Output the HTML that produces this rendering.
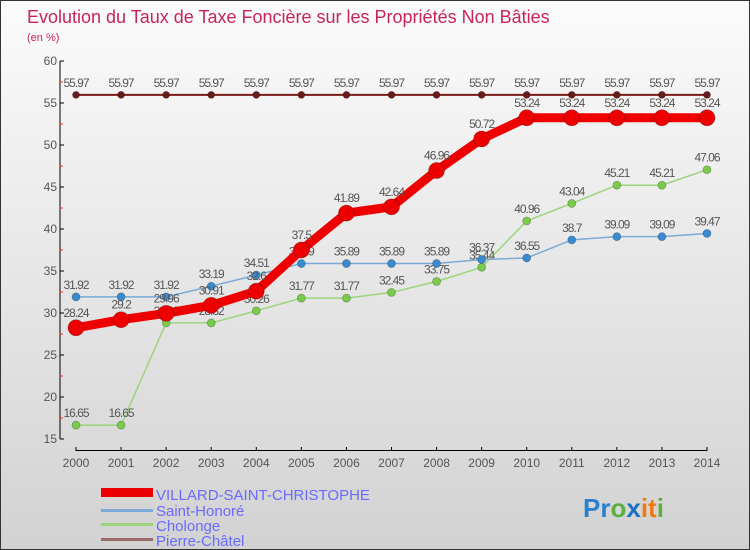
<!DOCTYPE html>
<html><head><meta charset="utf-8"><style>
body{margin:0}
#c{width:748px;height:548px;border:1px solid #333;background:linear-gradient(#fbfbfb,#d2d2d2);position:relative;font-family:"Liberation Sans",sans-serif;overflow:hidden}
</style></head><body>
<div id="c">
<svg id="s" width="748" height="548" style="position:absolute;left:0;top:0">
<text x="26" y="22" font-size="18" fill="#c8245c">Evolution du Taux de Taxe Foncière sur les Propriétés Non Bâties</text>
<text x="26" y="40" font-size="11" fill="#c8245c">(en %)</text>
<g id="axes"></g><g id="series"></g>
<g>
<rect x="100" y="487" width="52" height="9" fill="#e00"/>
<text x="155" y="499" font-size="15" fill="#6a6aff">VILLARD-SAINT-CHRISTOPHE</text>
<rect x="100" y="508" width="52" height="3" fill="#7aaad5"/>
<text x="155" y="515" font-size="15" fill="#6a6aff">Saint-Honoré</text>
<rect x="100" y="522" width="52" height="3" fill="#9ad57a"/>
<text x="155" y="530" font-size="15" fill="#6a6aff">Cholonge</text>
<rect x="100" y="537" width="52" height="3" fill="#9a6a6a"/>
<text x="155" y="545" font-size="15" fill="#6a6aff">Pierre-Châtel</text>
</g>
<text x="582" y="516" font-size="26" font-weight="bold"><tspan fill="#2a7fd0">Pr</tspan><tspan fill="#5ab040">o</tspan><tspan fill="#1a70c0">x</tspan><tspan fill="#f07a10">it</tspan><tspan fill="#5ab040">i</tspan></text>
</svg>
</div>
<script>
const years=["2000","2001","2002","2003","2004","2005","2006","2007","2008","2009","2010","2011","2012","2013","2014"];
const yTicks=[15,20,25,30,35,40,45,50,55,60];
const villard=[28.24,29.2,29.96,30.91,32.6,37.5,41.89,42.64,46.96,50.72,53.24,53.24,53.24,53.24,53.24];
const saintHonore=[31.92,31.92,31.92,33.19,34.51,35.89,35.89,35.89,35.89,36.37,36.55,38.7,39.09,39.09,39.47];
const cholonge=[16.65,16.65,28.82,28.82,30.26,31.77,31.77,32.45,33.75,35.44,40.96,43.04,45.21,45.21,47.06];
const pierreChatel=[55.97,55.97,55.97,55.97,55.97,55.97,55.97,55.97,55.97,55.97,55.97,55.97,55.97,55.97,55.97];
const NS="http://www.w3.org/2000/svg";
const X=i=>75+i*(706-75)/(years.length-1);
const Y=v=>438-(v-15)*(438-60)/45;
function mk(t,a,p){const e=document.createElementNS(NS,t);for(const k in a)e.setAttribute(k,a[k]);p.appendChild(e);return e;}
const ax=document.getElementById('axes');
let e=mk('line',{x1:59,y1:60,x2:59,y2:438,stroke:'#000','stroke-width':1},ax);


e=mk('line',{x1:75,y1:449.5,x2:706,y2:449.5,stroke:'#000','stroke-width':1},ax);


yTicks.forEach(v=>{
 mk('line',{x1:59,y1:Y(v),x2:63,y2:Y(v),stroke:'#000'},ax);
 if(v<60) mk('line',{x1:59,y1:Y(v+2.5),x2:62,y2:Y(v+2.5),stroke:'#e33'},ax);
 const t=mk('text',{x:56,y:Y(v)+4,'font-size':12,fill:'#555','text-anchor':'end'},ax);t.textContent=v;
 
 
});
years.forEach((y,i)=>{
 mk('line',{x1:X(i),y1:446,x2:X(i),y2:450,stroke:'#000'},ax);
 const t=mk('text',{x:X(i),y:466,'font-size':12,fill:'#555','text-anchor':'middle'},ax);t.textContent=y;
 
 
});
const sg=document.getElementById('series');
function draw(data,color,w,r,name,fill){
 const g=mk('g',{},sg);
 
 
 mk('polyline',{points:data.map((v,i)=>X(i)+','+Y(v)).join(' '),fill:'none',stroke:color,'stroke-width':w,'stroke-linejoin':'round'},g);
 data.forEach((v,i)=>{
  const c=mk('circle',{cx:X(i),cy:Y(v),r:r,fill:fill,stroke:'rgba(0,0,0,0.3)','stroke-width':0.7},g);
  
  
  const t=mk('text',{x:X(i),y:Y(v)-8-(r>5?3:0),'font-size':12,fill:'#555','text-anchor':'middle','letter-spacing':'-1'},g);
  t.textContent=v;
  
  
 });
}
draw(pierreChatel,'#7a1a1a',2,3.5,'series-pierre-chatel','#6a1a1a');
draw(cholonge,'#9ad57a',1.5,4,'series-cholonge','#7acb4a');
draw(saintHonore,'#7aaad5',1.5,4,'series-saint-honore','#3a8ad0');
draw(villard,'#e00',9,8,'series-villard','#e00');
</script>
</body></html>
